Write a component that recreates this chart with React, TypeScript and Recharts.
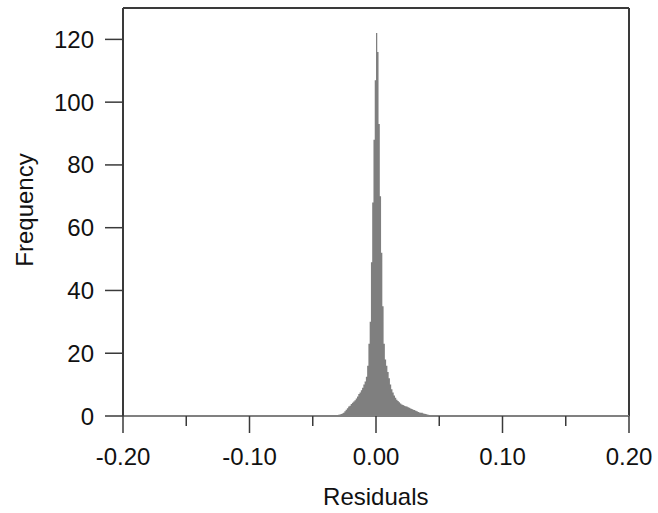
import React from 'react';
import { ComposedChart, Area, XAxis, YAxis, ReferenceLine } from 'recharts';

// Histogram of residuals: bins of width 0.001 starting at -0.032
const binStart = -0.032;
const binWidth = 0.001;
const frequencies = [
  0.2, 0.3, 0.4, 0.5, 0.6, 0.8, 1.0, 1.5, 2.0, 2.5,
  3.0, 3.3, 3.8, 4.2, 4.6, 5.0, 5.6, 6.2, 7.0, 7.5,
  8.2, 9.0, 10.0, 11.0, 12.5, 16, 23, 30, 49, 68,
  88, 107, 122, 116, 93, 70, 52, 35, 23, 18,
  16, 14, 12, 10, 8.5, 7.5, 6.5, 5.8, 5.2, 4.8,
  4.4, 4.0, 3.7, 3.5, 3.3, 3.1, 3.0, 2.8, 2.6, 2.4,
  2.2, 2.0, 1.9, 1.7, 1.5, 1.3, 1.1, 1.0, 1.0, 0.8,
  0.7, 0.6, 0.5, 0.4, 0.3, 0.2,
];

const xTicks = [-0.2, -0.15, -0.1, -0.05, 0, 0.05, 0.1, 0.15, 0.2];
const xTickLabels = ['-0.20', '', '-0.10', '', '0.00', '', '0.10', '', '0.20'];
const yTicks = [0, 20, 40, 60, 80, 100, 120];
const yTickLabels = ['0', '20', '40', '60', '80', '100', '120'];

const data = [
  ...frequencies.map((f, i) => ({ x: +(binStart + i * binWidth).toFixed(4), freq: f })),
  { x: +(binStart + frequencies.length * binWidth).toFixed(4), freq: 0 },
];

const FONT = 'Liberation Sans, Arial, sans-serif';
const AXIS = '#3a3a3a';

const XTick = (props: any) => {
  const { x, y, index } = props;
  const label = xTickLabels[index] ?? '';
  const major = label !== '';
  return (
    <g>
      <line x1={x} x2={x} y1={y} y2={y + (major ? 17 : 10)} stroke={AXIS} strokeWidth={1.5} />
      {major && (
        <text x={x} y={y + 49} textAnchor="middle" fontSize={24} fontFamily={FONT} fill="#111">
          {label}
        </text>
      )}
    </g>
  );
};

const YTick = (props: any) => {
  const { x, y, index } = props;
  const label = yTickLabels[index] ?? '';
  return (
    <g>
      <line x1={x - 18} x2={x} y1={y} y2={y} stroke={AXIS} strokeWidth={1.5} />
      <text x={x - 29} y={y + 8.5} textAnchor="end" fontSize={24} fontFamily={FONT} fill="#111">
        {label}
      </text>
    </g>
  );
};

export default function App() {
  return (
    <div style={{ position: 'absolute', left: 0, top: 0, background: '#fff' }}>
      <ComposedChart
        width={658}
        height={513}
        data={data}
        margin={{ top: 8, right: 29, left: 0, bottom: 0 }}
      >
        <XAxis
          dataKey="x"
          type="number"
          domain={[-0.2, 0.2]}
          ticks={xTicks}
          interval={0}
          height={97}
          tickSize={0}
          tickMargin={0}
          tickLine={false}
          axisLine={{ stroke: '#808080', strokeWidth: 2 }}
          tick={<XTick />}
          allowDataOverflow
        />
        <YAxis
          type="number"
          domain={[0, 130]}
          ticks={yTicks}
          interval={0}
          width={123}
          tickSize={0}
          tickMargin={0}
          tickLine={false}
          axisLine={{ stroke: AXIS, strokeWidth: 2 }}
          tick={<YTick />}
          allowDataOverflow
        />
        <ReferenceLine y={130} stroke={AXIS} strokeWidth={2} />
        <ReferenceLine x={0.2} stroke={AXIS} strokeWidth={2} />
        <Area
          type="stepAfter"
          dataKey="freq"
          fill="#7f7f7f"
          fillOpacity={1}
          stroke="none"
          isAnimationActive={false}
          dot={false}
          activeDot={false}
        />
        <text
          x={375.8}
          y={505}
          textAnchor="middle"
          fontSize={24}
          fontFamily={FONT}
          fill="#111"
        >
          Residuals
        </text>
        <text
          x={33}
          y={210}
          transform="rotate(-90 33 210)"
          textAnchor="middle"
          fontSize={24}
          fontFamily={FONT}
          fill="#111"
        >
          Frequency
        </text>
      </ComposedChart>
    </div>
  );
}
